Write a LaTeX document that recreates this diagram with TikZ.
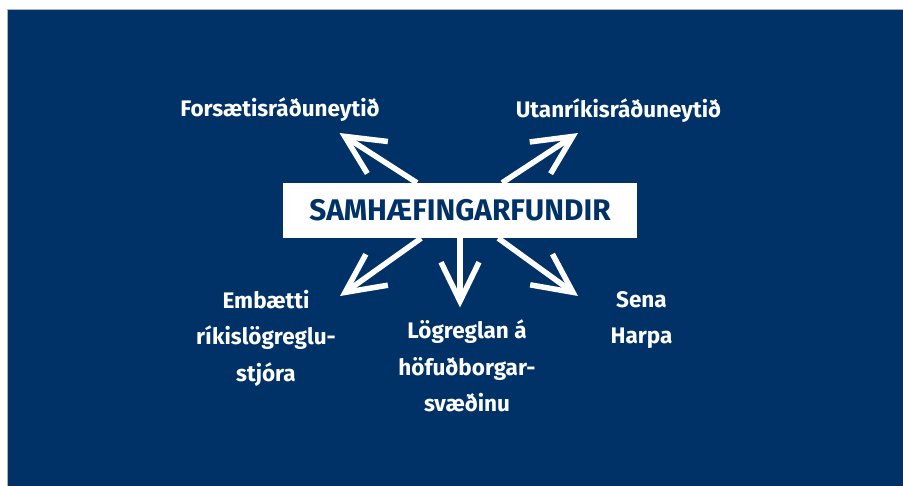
\documentclass[tikz,border=0pt]{standalone}
\usepackage{fontspec}
\setmainfont{Fira Sans}
\usetikzlibrary{arrows.meta}
\definecolor{slideblue}{RGB}{0,50,103}

\begin{document}
\begin{tikzpicture}[x=1pt, y=-1pt,
		lbl/.style={text=white, font=\bfseries\fontsize{22.5}{36.5}\selectfont, align=center},
		hub/.style={fill=white, text=slideblue, minimum width=354pt, minimum height=55pt, inner sep=0pt, font=\bfseries\fontsize{29.8}{34}\selectfont},
		arr/.style={draw=white, line width=5.5pt, -{Straight Barb[length=39pt, width=38pt, sharp]}}]
		  % Background
		  \useasboundingbox (0,0) rectangle (903,485);
		  \fill[white] (0,0) rectangle (903,485);
		  \filldraw[fill=slideblue, draw=gray!60, line width=1pt] (7.5,9) rectangle (910,490);

		  % Nodes
		  \node[hub] (hub) at (460,210.5) {SAMHÆFINGARFUNDIR};
		  \node[lbl] (fors) at (280,110) {Forsætisráðuneytið};
		  \node[lbl] (utan) at (618.5,111) {Utanríkisráðuneytið};
		  \node[lbl] (rls) at (266,338) {Embætti\\ríkislögreglu-\\stjóra};
		  \node[lbl] (lrh) at (467,366) {Lögreglan á\\höfuðborgar-\\svæðinu};
		  \node[lbl] (sena) at (641.5,320) {Sena\\Harpa};

		  % Arrow tips
		  \coordinate (tl) at (339.5,133);
		  \coordinate (tr) at (578,133);
		  \coordinate (bl) at (340,296);
		  \coordinate (bm) at (460,307.5);
		  \coordinate (br) at (578,296);

		  % Edges
		  \draw[arr] (hub) -- (tl);
		  \draw[arr] (hub) -- (tr);
		  \draw[arr] (hub) -- (bl);
		  \draw[arr] (hub) -- (bm);
		  \draw[arr] (hub) -- (br);
\end{tikzpicture}
\end{document}
